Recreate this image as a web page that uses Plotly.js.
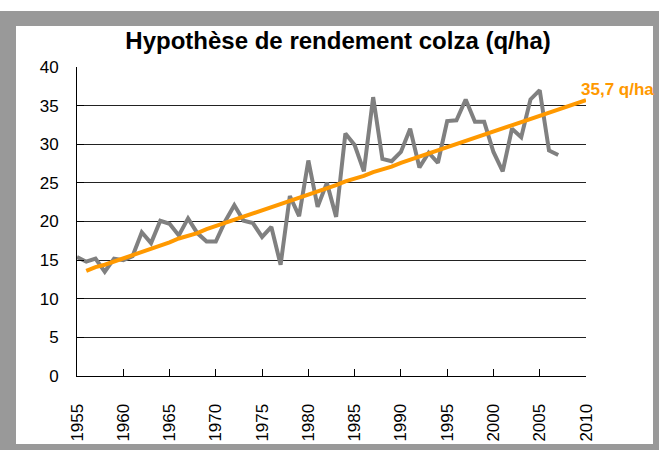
<!DOCTYPE html>
<html><head><meta charset="utf-8">
<script src="https://cdn.plot.ly/plotly-3.0.1.min.js"></script>
<style>
html,body{margin:0;padding:0;background:#fff;}
#frame{position:absolute;left:0;top:11px;width:659px;height:439px;background:#999999;}
#inner{position:absolute;left:16px;top:15px;width:637px;height:418px;background:#fff;}
#chart{position:absolute;left:0;top:0;width:659px;height:450px;}
</style></head>
<body>
<div id="frame"><div id="inner"></div></div>
<div id="chart"></div>
<script>
// Observed yields (q/ha)
const years = [1955,1956,1957,1958,1959,1960,1961,1962,1963,1964,1965,1966,1967,1968,1969,1970,1971,1972,1973,1974,1975,1976,1977,1978,1979,1980,1981,1982,1983,1984,1985,1986,1987,1988,1989,1990,1991,1992,1993,1994,1995,1996,1997,1998,1999,2000,2001,2002,2003,2004,2005,2006,2007];
const yields = [15.4,14.8,15.2,13.5,15.2,15.0,15.5,18.6,17.2,20.1,19.7,18.2,20.4,18.5,17.4,17.4,20.0,22.1,20.1,19.8,18.0,19.3,14.4,23.3,20.7,27.9,21.9,25.0,20.6,31.4,29.9,26.5,36.1,28.1,27.8,29.0,32.0,27.0,28.9,27.6,33.0,33.1,35.8,32.9,32.9,29.0,26.5,32.0,30.9,35.8,37.0,29.2,28.6];
// Trend hypothesis (q/ha)
const trendYears = [1956,1957,1958,1959,1960,1961,1962,1963,1964,1965,1966,1967,1968,1969,1970,1971,1972,1973,1974,1975,1976,1977,1978,1979,1980,1981,1982,1983,1984,1985,1986,1987,1988,1989,1990,1991,1992,1993,1994,1995,1996,1997,1998,1999,2000,2001,2002,2003,2004,2005,2006,2007,2008,2009,2010];
const trend = [13.6,14.1,14.4,14.8,15.2,15.7,16.1,16.4,16.9,17.3,17.8,18.1,18.5,19.0,19.4,19.8,20.3,20.6,21.0,21.4,21.8,22.3,22.6,23.1,23.5,23.9,24.3,24.7,25.2,25.5,25.9,26.4,26.7,27.1,27.6,28.0,28.4,28.8,29.2,29.6,30.0,30.5,30.8,31.2,31.7,32.0,32.4,32.9,33.3,33.7,34.1,34.5,34.9,35.3,35.7];
const xTicks = [1955,1960,1965,1970,1975,1980,1985,1990,1995,2000,2005,2010];
const yTicks = [0,5,10,15,20,25,30,35,40];
const titleText = 'Hypothèse de rendement colza (q/ha)';
const endLabel = '35,7 q/ha';

const traces = [
  {x: years, y: yields, type: 'scatter', mode: 'lines', line: {color: '#808080', width: 4}, hoverinfo: 'x+y'},
  {x: trendYears, y: trend, type: 'scatter', mode: 'lines', line: {color: '#FF9900', width: 4}, hoverinfo: 'x+y'}
];
const layout = {
  width: 659, height: 450,
  margin: {l: 77, r: 73, t: 67, b: 74},
  paper_bgcolor: 'rgba(0,0,0,0)', plot_bgcolor: 'rgba(0,0,0,0)',
  showlegend: false,
  title: {text: titleText, x: 0.513, xanchor: 'center', y: 0.91, yanchor: 'middle',
          font: {family: 'Liberation Sans, Arial, sans-serif', size: 24, color: '#000', weight: 'bold'}},
  xaxis: {range: [1955, 2010], tickvals: xTicks, ticktext: xTicks.map(String), tickangle: -90,
          ticks: 'inside', ticklen: 7, tickcolor: '#000', showline: true, linecolor: '#000', linewidth: 1,
          showgrid: false, zeroline: false, ticklabelstandoff: 20,
          tickfont: {family: 'Liberation Sans, Arial, sans-serif', size: 17, color: '#000'}},
  yaxis: {range: [0, 40], tickvals: yTicks, ticks: 'inside', ticklen: 7, tickcolor: '#000',
          showline: true, linecolor: '#000', linewidth: 1, showgrid: true, gridcolor: '#222', gridwidth: 1,
          zeroline: false, ticklabelstandoff: 14,
          tickfont: {family: 'Liberation Sans, Arial, sans-serif', size: 17, color: '#000'}},
  annotations: [{x: trendYears[trendYears.length-1], y: trend[trend.length-1], xref: 'x', yref: 'y',
                 text: '<b>' + endLabel + '</b>', showarrow: false, xanchor: 'left', yanchor: 'bottom',
                 xshift: -7, yshift: -1,
                 font: {family: 'Liberation Sans, Arial, sans-serif', size: 17, color: '#FF9900'}}]
};
Plotly.newPlot('chart', traces, layout, {displayModeBar: false, staticPlot: true});
</script>
</body></html>
